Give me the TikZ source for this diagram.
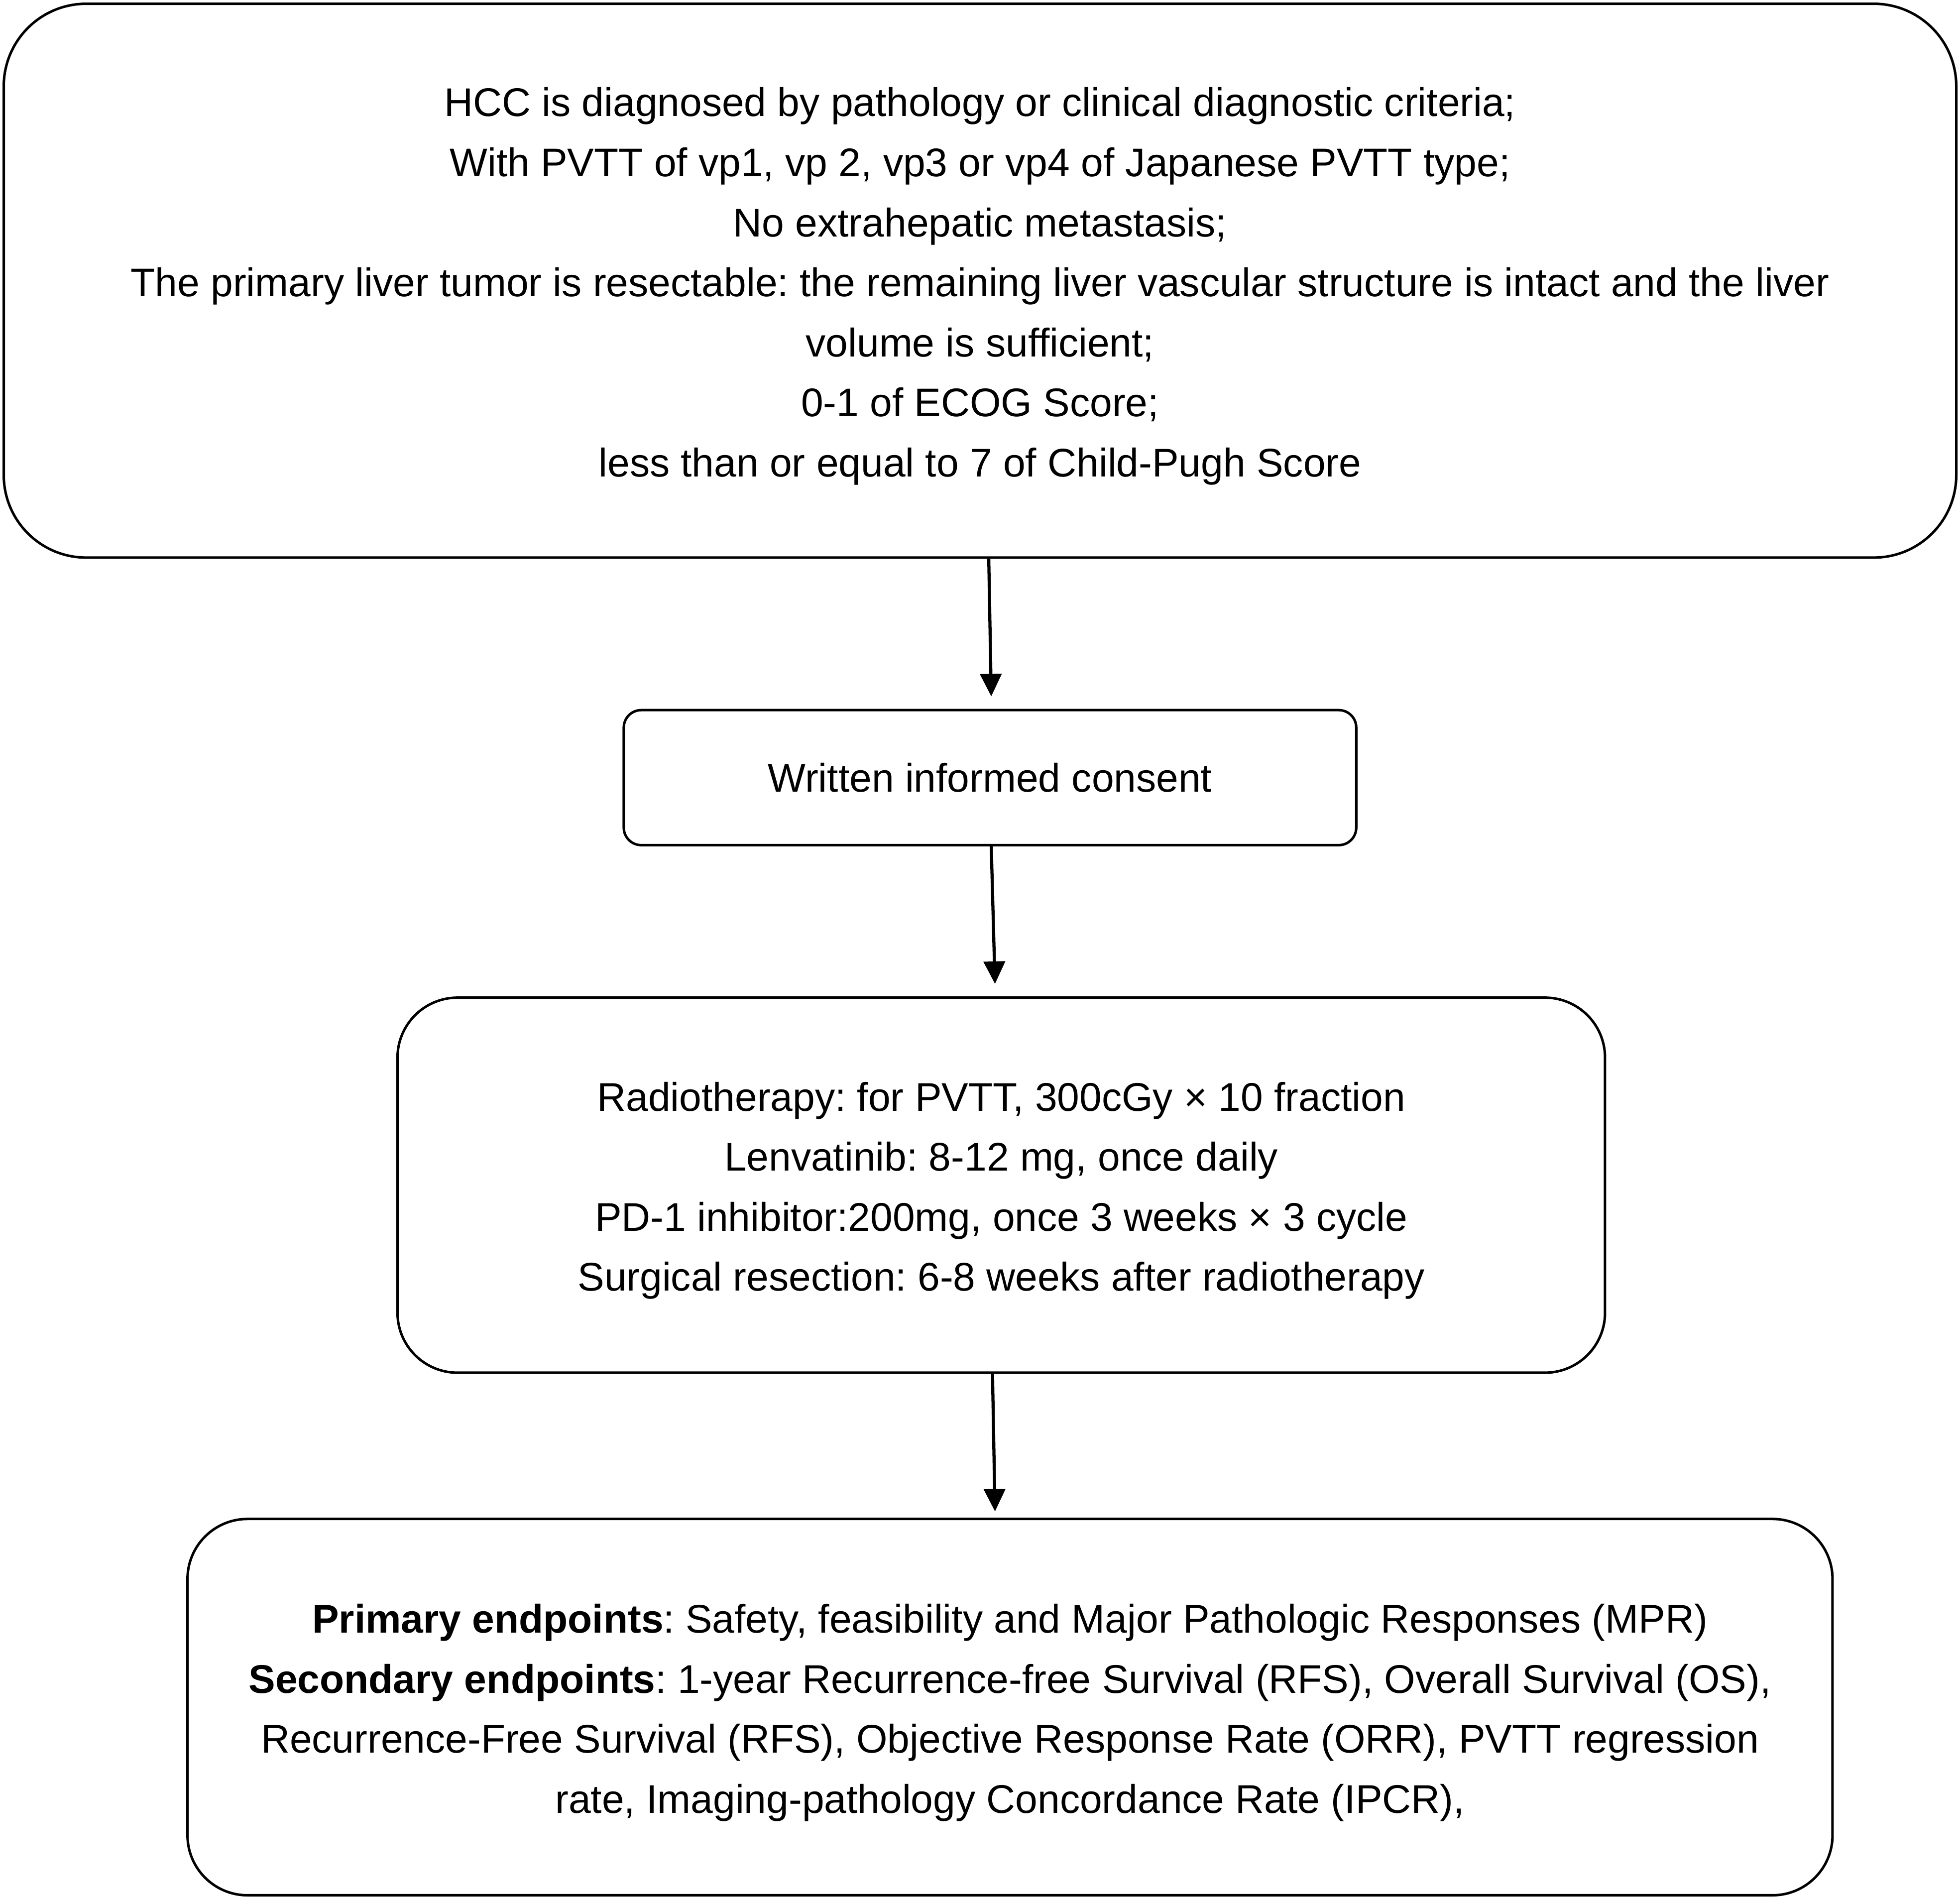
\documentclass[tikz,border=0pt]{standalone}
\usepackage{fontspec}
\setmainfont{Liberation Sans}
\usetikzlibrary{arrows.meta}
\frenchspacing
\newcommand\mypad{\rule{0pt}{32pt}}
\begin{document}
\begin{tikzpicture}[x=1pt,y=-1pt,
  box/.style={draw=black, line width=2pt, rectangle, inner sep=0pt, align=center,
    font=\fontsize{32}{48}\selectfont},
  arr/.style={line width=2.5pt, -{Triangle[length=18pt,width=17pt]}}]
\useasboundingbox (0,0) rectangle (1568,1519);
\node[box, rounded corners=66pt, minimum width=1562pt, minimum height=443pt] (top) at (784,224.5)
 {\mypad HCC is diagnosed by pathology or clinical diagnostic criteria;\\
  With PVTT of vp1, vp 2, vp3 or vp4 of Japanese PVTT type;\\
  No extrahepatic metastasis;\\
  The primary liver tumor is resectable: the remaining liver vascular structure is intact and the liver\\
  volume is sufficient;\\
  0-1 of ECOG Score;\\
  less than or equal to 7 of Child-Pugh Score};
\node[box, rounded corners=14pt, minimum width=586pt, minimum height=108pt] (consent) at (792,622)
 {Written informed consent};
\node[box, rounded corners=48pt, minimum width=966pt, minimum height=300pt] (treat) at (801,948)
 {\mypad Radiotherapy: for PVTT, 300cGy × 10 fraction\\
  Lenvatinib: 8-12 mg, once daily\\
  PD-1 inhibitor:200mg, once 3 weeks × 3 cycle\\
  Surgical resection: 6-8 weeks after radiotherapy};
\node[box, rounded corners=48pt, minimum width=1316pt, minimum height=301pt] (endp) at (808,1365.5)
 {\mypad\textbf{Primary endpoints}: Safety, feasibility and Major Pathologic Responses (MPR)\\
  \textbf{Secondary endpoints}: 1-year Recurrence-free Survival (RFS), Overall Survival (OS),\\
  Recurrence-Free Survival (RFS), Objective Response Rate (ORR), PVTT regression\\
  rate, Imaging-pathology Concordance Rate (IPCR),};
\draw[arr] ([xshift=7pt]top.south) -- ([xshift=1pt,yshift=10pt]consent.north);
\draw[arr] ([xshift=1pt]consent.south) -- ([xshift=-5pt,yshift=10pt]treat.north);
\draw[arr] ([xshift=-7pt]treat.south) -- ([xshift=-12pt,yshift=5pt]endp.north);
\end{tikzpicture}
\end{document}
